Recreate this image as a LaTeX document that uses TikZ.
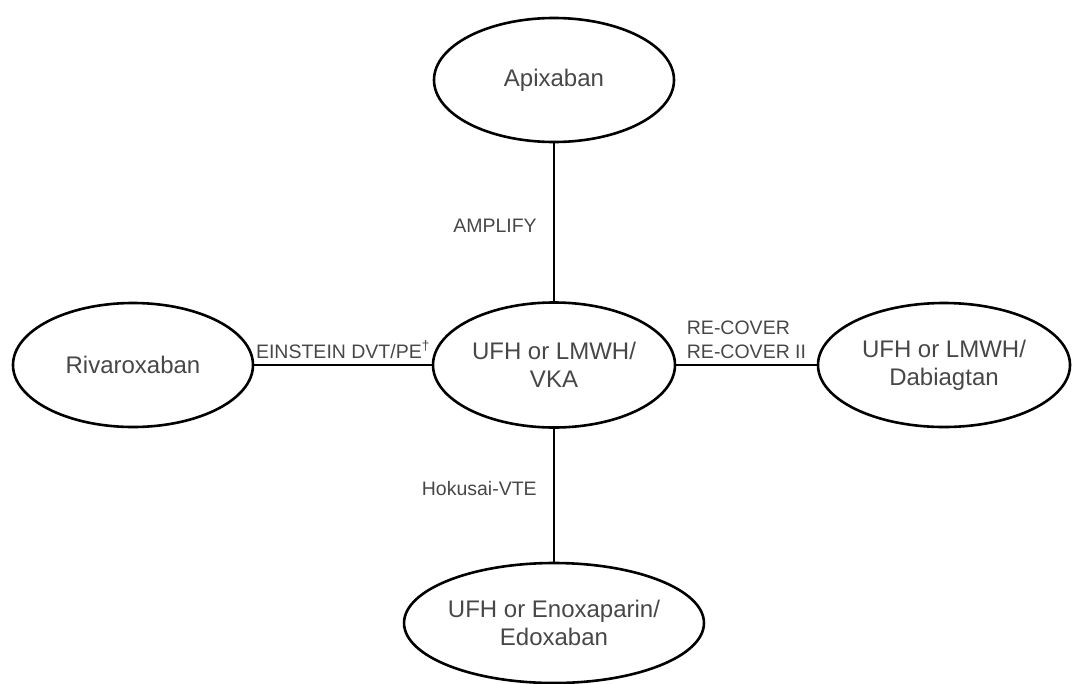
\documentclass[tikz,border=0pt]{standalone}
\usepackage{fontspec}
\setmainfont{Liberation Sans}
\usetikzlibrary{shapes.geometric}
\begin{document}
\begin{tikzpicture}[x=1pt,y=-1pt,
  drug/.style={ellipse,draw=black,line width=2.6pt,inner sep=0pt,align=center,
    text=black!72,font=\fontsize{24}{28}\selectfont},
  link/.style={draw=black,line width=2.6pt},
  lab/.style={text=black!72,font=\fontsize{19.5}{24}\selectfont,inner sep=2pt,align=left}]
\useasboundingbox (0,0) rectangle (1073,683);
\node[drug,minimum width=240pt,minimum height=124pt] (apx) at (554,80) {Apixaban};
\node[drug,minimum width=242pt,minimum height=125pt] (ctr) at (554,365) {UFH or LMWH/\\VKA};
\node[drug,minimum width=240pt,minimum height=124pt] (riv) at (133,365) {Rivaroxaban};
\node[drug,minimum width=252pt,minimum height=124pt] (dab) at (944,365) {UFH or LMWH/\\Dabiagtan};
\node[drug,minimum width=262pt,minimum height=120pt] (edo) at (554,623) {UFH or Enoxaparin/\\Edoxaban};
\draw[link] (apx) -- (ctr) node[lab,pos=0.52,anchor=east,xshift=-14pt] {AMPLIFY};
\draw[link] (riv) -- (ctr) node[lab,pos=0.5,anchor=south,yshift=3pt] {EINSTEIN DVT/PE\textsuperscript{†}};
\draw[link] (ctr) -- (dab) node[lab,pos=0.5,anchor=south,yshift=3pt] {RE-COVER\\RE-COVER II};
\draw[link] (ctr) -- (edo) node[lab,pos=0.45,anchor=east,xshift=-14pt] {Hokusai-VTE};
\end{tikzpicture}
\end{document}
